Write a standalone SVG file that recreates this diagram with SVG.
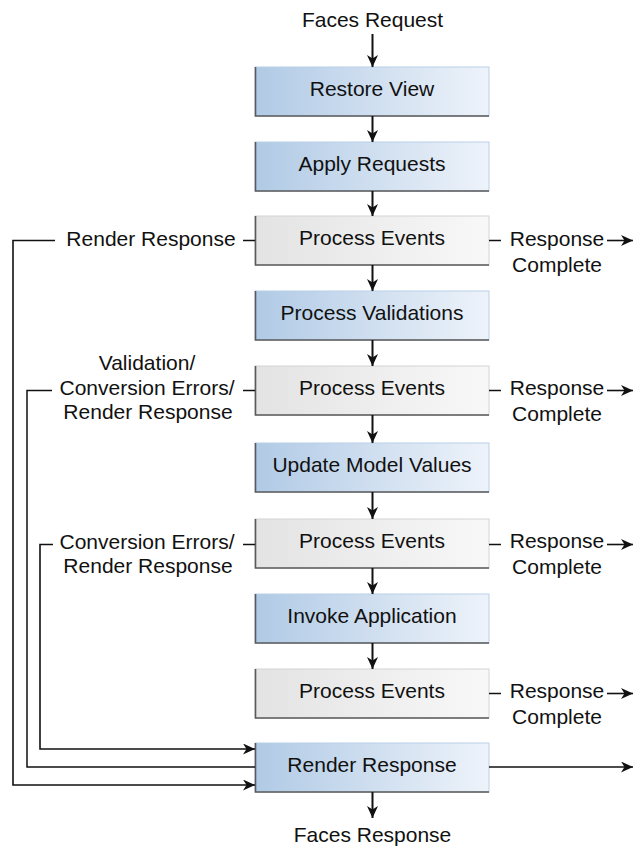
<svg xmlns="http://www.w3.org/2000/svg" width="636" height="848" viewBox="0 0 636 848">
<style>
text{font-family:"Liberation Sans",Arial,Helvetica,sans-serif;font-size:21px;fill:#111;}
.c{text-anchor:middle;}
.ln{fill:none;stroke:#111;stroke-width:1.5;}
.ar{fill:none;stroke:#111;stroke-width:1.6;marker-end:url(#ah);}
.va{fill:none;stroke:#111;stroke-width:2;marker-end:url(#ah);}
.blue{fill:url(#gb);stroke:#b9d0ea;stroke-width:1;}
.gray{fill:url(#gg);stroke:#d4d4d4;stroke-width:1;}
.sh{fill:none;stroke:#5a5a5a;stroke-width:1.6;}
</style>
<defs>
<linearGradient id="gb" x1="0" y1="0" x2="1" y2="0">
<stop offset="0" stop-color="#b0cae5"/>
<stop offset="1" stop-color="#eef3fa"/>
</linearGradient>
<linearGradient id="gg" x1="0" y1="0" x2="1" y2="0">
<stop offset="0" stop-color="#e3e3e3"/>
<stop offset="1" stop-color="#f8f8f8"/>
</linearGradient>
<marker id="ah" markerUnits="userSpaceOnUse" markerWidth="13" markerHeight="11" refX="12" refY="5.5" orient="auto">
<path d="M0,0 L12,5.5 L0,11 L3.5,5.5 z" fill="#111"/>
</marker>
</defs>

<text class="c" x="372.5" y="27">Faces Request</text>
<text class="c" x="372.5" y="842">Faces Response</text>

<g id="restore-view"><rect class="blue" x="255" y="67" width="234" height="49"/><path class="sh" d="M255.5,67 V116 H489"/><text class="c" x="372" y="96">Restore View</text></g>
<g id="apply-requests"><rect class="blue" x="255" y="142" width="234" height="49"/><path class="sh" d="M255.5,142 V191 H489"/><text class="c" x="372" y="171">Apply Requests</text></g>
<g id="process-events-1"><rect class="gray" x="255" y="216" width="234" height="49"/><path class="sh" d="M255.5,216 V265 H489"/><text class="c" x="372" y="245">Process Events</text></g>
<g id="process-validations"><rect class="blue" x="255" y="291" width="234" height="49"/><path class="sh" d="M255.5,291 V340 H489"/><text class="c" x="372" y="320">Process Validations</text></g>
<g id="process-events-2"><rect class="gray" x="255" y="366" width="234" height="49"/><path class="sh" d="M255.5,366 V415 H489"/><text class="c" x="372" y="395">Process Events</text></g>
<g id="update-model-values"><rect class="blue" x="255" y="443" width="234" height="49"/><path class="sh" d="M255.5,443 V492 H489"/><text class="c" x="372" y="472">Update Model Values</text></g>
<g id="process-events-3"><rect class="gray" x="255" y="519" width="234" height="49"/><path class="sh" d="M255.5,519 V568 H489"/><text class="c" x="372" y="548">Process Events</text></g>
<g id="invoke-application"><rect class="blue" x="255" y="594" width="234" height="49"/><path class="sh" d="M255.5,594 V643 H489"/><text class="c" x="372" y="623">Invoke Application</text></g>
<g id="process-events-4"><rect class="gray" x="255" y="669" width="234" height="49"/><path class="sh" d="M255.5,669 V718 H489"/><text class="c" x="372" y="698">Process Events</text></g>
<g id="render-response"><rect class="blue" x="255" y="743" width="234" height="49"/><path class="sh" d="M255.5,743 V792 H489"/><text class="c" x="372" y="772">Render Response</text></g>

<g id="labels">
<text class="c" x="151" y="246">Render Response</text>
<text class="c" x="147" y="370">Validation/</text>
<text class="c" x="147" y="395">Conversion Errors/</text>
<text class="c" x="148" y="419">Render Response</text>
<text class="c" x="147" y="549">Conversion Errors/</text>
<text class="c" x="148" y="573">Render Response</text>
<text class="c" x="557" y="246">Response</text>
<text class="c" x="557" y="272">Complete</text>
<text class="c" x="557" y="395">Response</text>
<text class="c" x="557" y="421">Complete</text>
<text class="c" x="557" y="548">Response</text>
<text class="c" x="557" y="574">Complete</text>
<text class="c" x="557" y="698">Response</text>
<text class="c" x="557" y="724">Complete</text>
</g>

<g id="connectors">
<line class="va" x1="372.5" y1="34" x2="372.5" y2="67"/>
<line class="va" x1="372.5" y1="116" x2="372.5" y2="142"/>
<line class="va" x1="372.5" y1="191" x2="372.5" y2="216"/>
<line class="va" x1="372.5" y1="265" x2="372.5" y2="291"/>
<line class="va" x1="372.5" y1="340" x2="372.5" y2="366"/>
<line class="va" x1="372.5" y1="415" x2="372.5" y2="443"/>
<line class="va" x1="372.5" y1="492" x2="372.5" y2="519"/>
<line class="va" x1="372.5" y1="568" x2="372.5" y2="594"/>
<line class="va" x1="372.5" y1="643" x2="372.5" y2="669"/>
<line class="va" x1="372.5" y1="792" x2="372.5" y2="818"/>

<line class="ln" x1="243" y1="240.5" x2="255" y2="240.5"/>
<polyline class="ar" points="55,240.5 13,240.5 13,785 255,785"/>
<line class="ln" x1="243" y1="390.5" x2="255" y2="390.5"/>
<polyline class="ln" points="52,390.5 27,390.5 27,767 255,767"/>
<line class="ln" x1="243" y1="544.5" x2="255" y2="544.5"/>
<polyline class="ar" points="53,544.5 40,544.5 40,749 255,749"/>

<line class="ln" x1="489" y1="240.5" x2="501" y2="240.5"/>
<line class="ar" x1="607" y1="240.5" x2="633" y2="240.5"/>
<line class="ln" x1="489" y1="390.5" x2="501" y2="390.5"/>
<line class="ar" x1="607" y1="390.5" x2="633" y2="390.5"/>
<line class="ln" x1="489" y1="544.5" x2="501" y2="544.5"/>
<line class="ar" x1="607" y1="544.5" x2="633" y2="544.5"/>
<line class="ln" x1="489" y1="693.5" x2="501" y2="693.5"/>
<line class="ar" x1="607" y1="693.5" x2="633" y2="693.5"/>
<line class="ar" x1="489" y1="767" x2="633" y2="767"/>
</g>
</svg>
